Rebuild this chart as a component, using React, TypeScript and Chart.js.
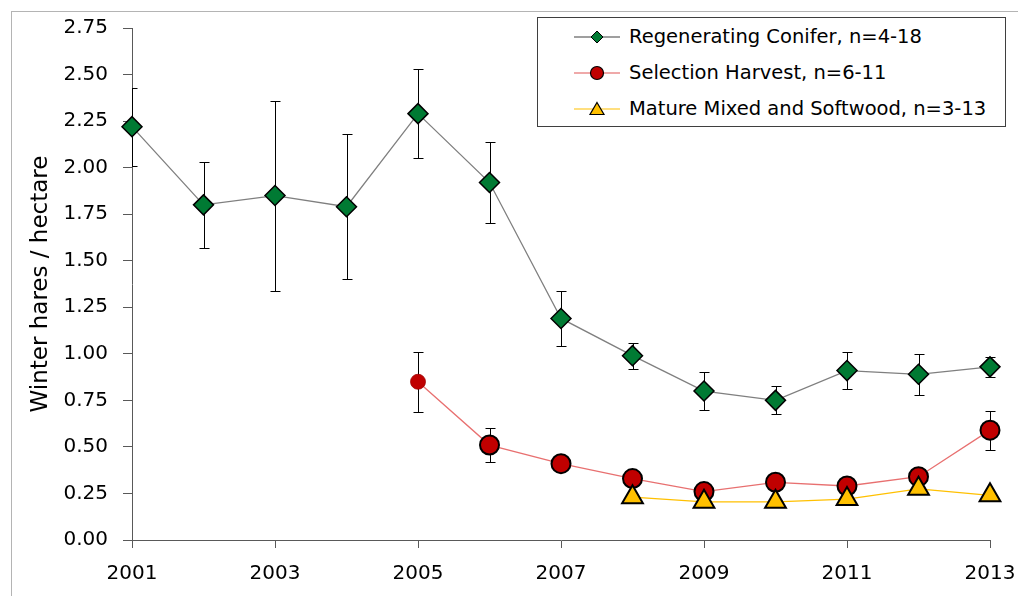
import { useEffect, useRef } from "react";
import { Chart, registerables } from "chart.js";

Chart.register(...registerables);

// Survey years and the two-year tick marks on the x axis
const years = [2001, 2002, 2003, 2004, 2005, 2006, 2007, 2008, 2009, 2010, 2011, 2012, 2013];
const xTickYears = [2001, 2003, 2005, 2007, 2009, 2011, 2013];
const yTickValues = [0, 0.25, 0.5, 0.75, 1, 1.25, 1.5, 1.75, 2, 2.25, 2.5, 2.75];

// Mean winter hare density (hares / ha) and standard error per habitat
const coniferMean = [2.22, 1.8, 1.85, 1.79, 2.29, 1.92, 1.19, 0.99, 0.8, 0.75, 0.91, 0.89, 0.93];
const coniferErr = [0.21, 0.23, 0.51, 0.39, 0.24, 0.22, 0.15, 0.07, 0.1, 0.075, 0.1, 0.11, 0.055];

const harvestMean = [null, null, null, null, 0.85, 0.51, 0.41, 0.33, 0.26, 0.31, 0.29, 0.34, 0.59];
const harvestErr = [null, null, null, null, 0.16, 0.09, 0.03, 0.04, 0.02, 0.03, 0.03, 0.03, 0.105];

const matureMean = [null, null, null, null, null, null, null, 0.23, 0.205, 0.205, 0.22, 0.275, 0.24];

const seriesNames = [
  "Regenerating Conifer, n=4-18",
  "Selection Harvest, n=6-11",
  "Mature Mixed and Softwood, n=3-13",
];
const yTitle = "Winter hares / hectare";

const FONT = "'DejaVu Sans', sans-serif";

const toPoints = (vals: (number | null)[]) => years.map((yr, i) => ({ x: yr, y: vals[i] }));

// Vertical error bars with caps, drawn beneath the markers and kept right of the y axis
const errorBarPlugin = {
  id: "errorBars",
  beforeDatasetsDraw(chart: any) {
    const { ctx, scales, chartArea } = chart;
    const xs = scales.x;
    const ys = scales.y;
    ctx.save();
    ctx.beginPath();
    ctx.rect(chartArea.left, 0, chart.width - chartArea.left, chart.height);
    ctx.clip();
    ctx.strokeStyle = "#000000";
    ctx.lineWidth = 1;
    chart.data.datasets.forEach((ds: any) => {
      const errs = ds.errors as (number | null)[] | undefined;
      if (!errs) return;
      ds.data.forEach((pt: any, j: number) => {
        const e = errs[j];
        if (pt.y == null || e == null) return;
        const px = Math.round(xs.getPixelForValue(pt.x)) + 0.5;
        const top = Math.round(ys.getPixelForValue(pt.y + e)) + 0.5;
        const bot = Math.round(ys.getPixelForValue(pt.y - e)) + 0.5;
        const cap = 5;
        ctx.beginPath();
        ctx.moveTo(px, top);
        ctx.lineTo(px, bot);
        ctx.moveTo(px - cap, top);
        ctx.lineTo(px + cap, top);
        ctx.moveTo(px - cap, bot);
        ctx.lineTo(px + cap, bot);
        ctx.stroke();
      });
    });
    ctx.restore();
  },
};

function LegendIcon({ kind }: { kind: number }) {
  const line = ["#404040", "#e05555", "#ffc000"][kind];
  return (
    <svg width={46} height={22} style={{ display: "block" }}>
      <line x1={0} y1={11} x2={46} y2={11} stroke={line} strokeWidth={1.2} />
      {kind === 0 && (
        <polygon points="23,5 29,11 23,17 17,11" fill="#007a33" stroke="#000" strokeWidth={1} />
      )}
      {kind === 1 && <circle cx={23} cy={11} r={6.5} fill="#c00000" stroke="#000" strokeWidth={1.2} />}
      {kind === 2 && (
        <polygon points="23,4.5 30,16.5 16,16.5" fill="#ffc000" stroke="#000" strokeWidth={1.2} />
      )}
    </svg>
  );
}

export default function App() {
  const canvasRef = useRef<HTMLCanvasElement | null>(null);

  useEffect(() => {
    const canvas = canvasRef.current;
    if (!canvas) return;

    const chart = new Chart(canvas, {
      type: "line",
      data: {
        datasets: [
          {
            label: seriesNames[0],
            data: toPoints(coniferMean),
            errors: coniferErr,
            borderColor: "#7f7f7f",
            borderWidth: 1.3,
            pointStyle: "rectRot",
            pointRadius: 10,
            pointBackgroundColor: "#007a33",
            pointBorderColor: "#000000",
            pointBorderWidth: 1.5,
            clip: false,
            order: 2,
          } as any,
          {
            label: seriesNames[1],
            data: toPoints(harvestMean),
            errors: harvestErr,
            borderColor: "#e87070",
            borderWidth: 1.3,
            pointStyle: "circle",
            pointRadius: [0, 0, 0, 0, 7.5, 9.5, 9.5, 9.5, 9.5, 9.5, 9.5, 9.5, 9.5],
            pointBackgroundColor: "#c00000",
            pointBorderColor: [
              "#000", "#000", "#000", "#000", "#a00000", "#000", "#000", "#000", "#000", "#000", "#000", "#000", "#000",
            ],
            pointBorderWidth: [2, 2, 2, 2, 0.8, 2, 2, 2, 2, 2, 2, 2, 2],
            clip: false,
            order: 1,
          } as any,
          {
            label: seriesNames[2],
            data: toPoints(matureMean),
            borderColor: "#ffc000",
            borderWidth: 1.3,
            pointStyle: "triangle",
            pointRadius: 12,
            pointBackgroundColor: "#ffc000",
            pointBorderColor: "#000000",
            pointBorderWidth: 2,
            clip: false,
            order: 0,
          } as any,
        ],
      },
      options: {
        animation: false,
        responsive: false,
        maintainAspectRatio: false,
        layout: { padding: { left: 0, right: 28, top: 28, bottom: 0 } },
        plugins: {
          legend: { display: false },
          tooltip: { enabled: false },
        },
        scales: {
          x: {
            type: "linear",
            min: 2001,
            max: 2013,
            afterBuildTicks: (scale: any) => {
              scale.ticks = xTickYears.map((v) => ({ value: v }));
            },
            afterFit: (scale: any) => {
              scale.height = 56;
              scale.paddingLeft = 0;
              scale.paddingRight = 0;
            },
            ticks: {
              callback: (v: any) => String(v),
              font: { family: FONT, size: 20 },
              color: "#000000",
              padding: 14,
              maxRotation: 0,
              autoSkip: false,
            },
            grid: {
              drawOnChartArea: false,
              drawTicks: true,
              tickLength: 8,
              color: "#595959",
              lineWidth: 1,
            },
            border: { display: true, color: "#595959", width: 1 },
          },
          y: {
            type: "linear",
            min: 0,
            max: 2.75,
            afterBuildTicks: (scale: any) => {
              scale.ticks = yTickValues.map((v) => ({ value: v }));
            },
            afterFit: (scale: any) => {
              scale.width = 132;
              scale.paddingTop = 0;
              scale.paddingBottom = 0;
            },
            ticks: {
              callback: (v: any) => Number(v).toFixed(2),
              font: { family: FONT, size: 20 },
              color: "#000000",
              padding: 15,
              autoSkip: false,
            },
            grid: {
              drawOnChartArea: false,
              drawTicks: true,
              tickLength: 9,
              color: "#595959",
              lineWidth: 1,
            },
            border: { display: true, color: "#595959", width: 1 },
            title: {
              display: true,
              text: yTitle,
              font: { family: FONT, size: 23 },
              color: "#000000",
              padding: { top: 27, bottom: 0 },
            },
          },
        },
      },
      plugins: [errorBarPlugin],
    } as any);

    return () => chart.destroy();
  }, []);

  return (
    <div
      style={{
        position: "fixed",
        left: 0,
        top: 0,
        width: 1018,
        height: 596,
        overflow: "hidden",
        background: "#ffffff",
      }}
    >
      <div
        style={{
          position: "absolute",
          left: 11,
          top: 11,
          width: 1040,
          height: 620,
          border: "1px solid #b4b4b4",
        }}
      />
      <canvas
        ref={canvasRef}
        width={1018}
        height={596}
        style={{ position: "absolute", left: 0, top: 0, width: 1018, height: 596, display: "block" }}
      />
      <div
        style={{
          position: "absolute",
          left: 537,
          top: 17,
          width: 467,
          height: 108,
          border: "1px solid #3f3f3f",
          background: "#ffffff",
          fontFamily: FONT,
          fontSize: 19.5,
          color: "#000000",
        }}
      >
        {seriesNames.map((name, i) => (
          <div
            key={name}
            style={{
              position: "absolute",
              left: 36,
              top: 8 + i * 36,
              height: 22,
              display: "flex",
              alignItems: "center",
              whiteSpace: "nowrap",
            }}
          >
            <LegendIcon kind={i} />
            <span style={{ marginLeft: 9, lineHeight: "22px" }}>{name}</span>
          </div>
        ))}
      </div>
    </div>
  );
}
